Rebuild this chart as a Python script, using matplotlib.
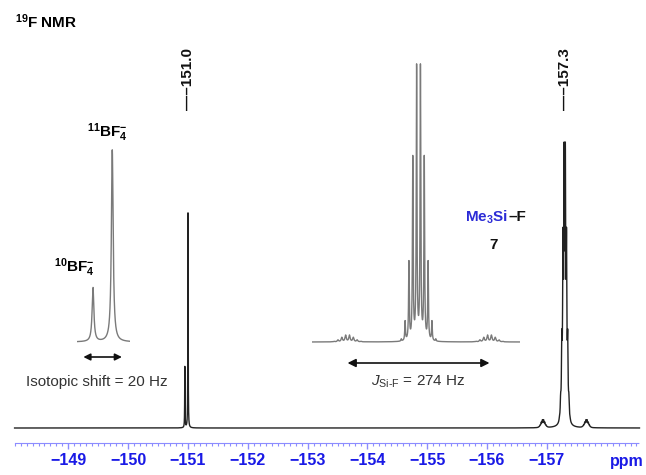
import matplotlib
matplotlib.use("Agg")
import matplotlib.pyplot as plt
import numpy as np
from matplotlib.ticker import FixedLocator

plt.rcParams['font.family'] = ['Liberation Sans', 'DejaVu Sans']
plt.rcParams['mathtext.fontset'] = 'custom'
plt.rcParams['mathtext.rm'] = 'Liberation Sans'
plt.rcParams['mathtext.it'] = 'Liberation Sans:italic'
plt.rcParams['mathtext.bf'] = 'Liberation Sans:bold'

# --- data ---
spec_mhz = 376.5                     # 19F frequency, Hz per ppm = 376.5
tick_ppm = [-149, -150, -151, -152, -153, -154, -155, -156, -157]
tick_labels = ["\u2212149", "\u2212150", "\u2212151", "\u2212152", "\u2212153",
               "\u2212154", "\u2212155", "\u2212156", "\u2212157"]

# BF4- : 10B / 11B isotopologues (main trace, ppm / height)
bf4_ppm = [-150.947, -151.0]
bf4_height = [61, 215]
# BF4- expansion (Hz offsets / height)
bf4_hz = [10, -10]
bf4_inset_height = [54, 192]

# Me3Si-F decet (J_HF ~ 7.4 Hz), relative intensities and offsets in Hz
sif_ppm = -157.3
sif_height = 286
decet_hz = [-33.3, -25.9, -18.5, -11.1, -3.7, 3.7, 11.1, 18.5, 25.9, 33.3]
decet_rel = [0.008, 0.071, 0.286, 0.667, 1.0, 1.0, 0.667, 0.286, 0.071, 0.008]
sif_inset_height = 272
# 29Si satellites
sat_hz = [137, -137]
sat_height = 8

peak_labels = ["151.0", "157.3"]
peak_label_ppm = [-151.0, -157.3]


def lorentz(x, x0, h, w):
    return h / (1.0 + ((x - x0) / (w / 2.0)) ** 2)


W, H = 646, 475


def box(x0, y0, x1, y1):
    # pixel box (top-left origin) -> figure fraction
    return [x0 / W, 1 - y1 / H, (x1 - x0) / W, (y1 - y0) / H]


fig = plt.figure(figsize=(6.46, 4.75), dpi=100)

# --- main spectrum ---
ax = fig.add_axes(box(0, 0, 646, 443))
ax.set_xlim(-147.856, -158.659)
ax.set_ylim(-15, 428)

ppm = np.linspace(-148.1, -158.55, 40000)
y = np.zeros_like(ppm)
for p, h in zip(bf4_ppm, bf4_height):
    y += lorentz(ppm, p, h, 0.006)
# unresolved decet on the full trace
y_sif = np.zeros_like(ppm)
for off, r in zip(decet_hz, decet_rel):
    y_sif += lorentz(ppm, sif_ppm + off / spec_mhz, r, 0.014)
y += y_sif * sif_height / y_sif.max()
y_sat = np.zeros_like(ppm)
for s in sat_hz:
    for off, r in zip(decet_hz, decet_rel):
        y_sat += lorentz(ppm, sif_ppm + (s + off) / spec_mhz, r, 0.016)
y += y_sat * sat_height / y_sat.max()
ax.plot(ppm, y, color='#222222', lw=1.0)

for sp in ['top', 'left', 'right']:
    ax.spines[sp].set_visible(False)
ax.spines['bottom'].set_color('#8c8cff')
ax.spines['bottom'].set_linestyle((0, (1, 1)))
ax.spines['bottom'].set_bounds(-148.1, -158.55)
ax.yaxis.set_visible(False)
ax.xaxis.set_major_locator(FixedLocator(tick_ppm))
ax.set_xticklabels(tick_labels)
ax.xaxis.set_minor_locator(FixedLocator(np.arange(-148.1, -158.56, -0.1)))
ax.tick_params(axis='x', which='major', length=4.5, width=1, color='#8c8cff',
               pad=3, labelsize=11.5, labelcolor='#1a1ae6')
ax.tick_params(axis='x', which='minor', length=2, width=0.8, color='#8c8cff')
for t in ax.get_xticklabels():
    t.set_fontweight('bold')
ax.text(-158.33, -34, "ppm", ha='center', va='center', fontsize=11.5,
        fontweight='bold', color='#1a1ae6')

for lab, p in zip(peak_labels, peak_label_ppm):
    ax.text(p, 318, "\u2014\u2013" + lab, rotation=90, ha='center', va='bottom',
            fontsize=11, fontweight='bold', color='#111111')

# --- BF4- expansion ---
ax1 = fig.add_axes(box(77, 140, 130, 345))
ax1.set_xlim(26.6, -28.4)
ax1.set_ylim(-3, 202)
ax1.axis('off')
hz1 = np.linspace(26.6, -28.4, 4000)
y1 = np.zeros_like(hz1)
for f, h in zip(bf4_hz, bf4_inset_height):
    y1 += lorentz(hz1, f, h, 2.2)
ax1.plot(hz1, y1, color='#7a7a7a', lw=1.0)
ax1.annotate('', xy=(-20, -15), xytext=(20, -15), annotation_clip=False,
             arrowprops=dict(arrowstyle='<|-|>', color='#111111', lw=1.2,
                             mutation_scale=10, shrinkA=0, shrinkB=0))

# --- Me3Si-F expansion ---
ax2 = fig.add_axes(box(312, 60, 520, 345))
ax2.set_xlim(205.6, -195.9)
ax2.set_ylim(-3, 282)
ax2.axis('off')
hz2 = np.linspace(205.6, -195.9, 12000)
y2 = np.zeros_like(hz2)
for off, r in zip(decet_hz, decet_rel):
    y2 += lorentz(hz2, off, sif_inset_height * r, 1.6)
    for s in sat_hz:
        y2 += lorentz(hz2, s + off, sif_inset_height * r * 0.024, 3.0)
ax2.plot(hz2, y2, color='#7a7a7a', lw=1.0)
ax2.annotate('', xy=(-137, -21), xytext=(137, -21), annotation_clip=False,
             arrowprops=dict(arrowstyle='<|-|>', color='#111111', lw=1.2,
                             mutation_scale=12, shrinkA=0, shrinkB=0))

# --- labels ---
fig.text(15 / W, 1 - 22 / H, r"$^{\mathbf{19}}$F NMR", ha='left', va='center',
         fontsize=11, fontweight='bold')
fig.text(107 / W, 1 - 133 / H, r"$^{\mathbf{11}}$BF$_{\mathbf{4}}^{\mathbf{-}}$",
         ha='center', va='center', fontsize=11, fontweight='bold')
fig.text(74 / W, 1 - 268 / H, r"$^{\mathbf{10}}$BF$_{\mathbf{4}}^{\mathbf{-}}$",
         ha='center', va='center', fontsize=11, fontweight='bold')
fig.text(97 / W, 1 - 382 / H, "Isotopic shift = 20 Hz", ha='center', va='center',
         fontsize=11, color='#333333')
fig.text(418 / W, 1 - 382 / H, r"$J_{\mathrm{Si\text{-}F}}$ = 274 Hz", ha='center',
         va='center', fontsize=11, color='#333333')
fig.text(508 / W, 1 - 217 / H, r"$\mathbf{Me_3Si}$", ha='right', va='center',
         fontsize=11, color='#2b2bd6')
fig.text(508.5 / W, 1 - 217 / H, "\u2013F", ha='left', va='center',
         fontsize=11, fontweight='bold', color='#111111')
fig.text(494 / W, 1 - 245 / H, "7", ha='center', va='center',
         fontsize=11, fontweight='bold', color='#111111')

fig.savefig("out.png", dpi=100)
